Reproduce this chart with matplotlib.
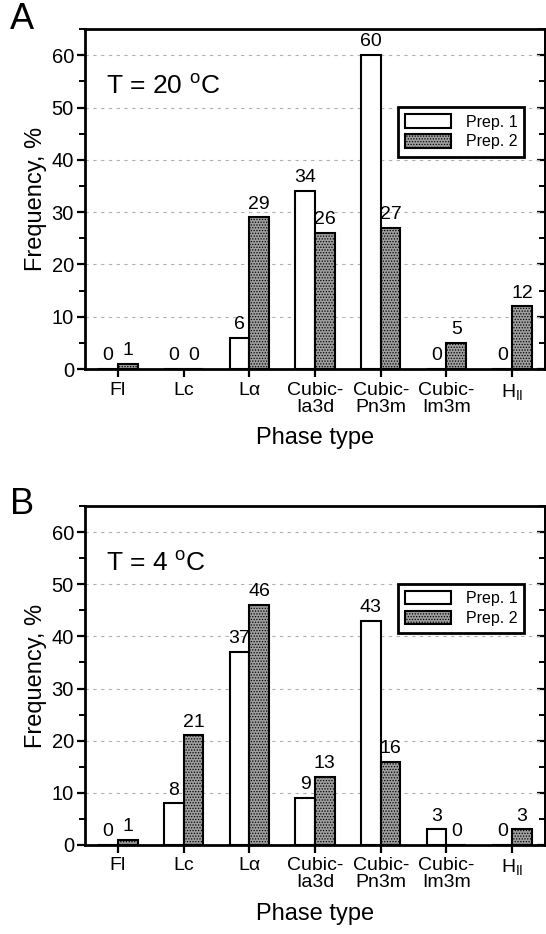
import matplotlib
matplotlib.use("Agg")
import matplotlib.pyplot as plt
import numpy as np
from matplotlib.ticker import MultipleLocator

# ── data ─────────────────────────────────────────────────────────────────────
phases = ["Fl", "Lc", "L\u03b1", "Cubic-\nIa3d", "Cubic-\nPn3m", "Cubic-\nIm3m",
          r"H$_{\mathregular{II}}$"]
prep1_20C = [0, 0, 6, 34, 60, 0, 0]
prep2_20C = [1, 0, 29, 26, 27, 5, 12]
prep1_4C = [0, 8, 37, 9, 43, 3, 0]
prep2_4C = [1, 21, 46, 13, 16, 0, 3]
series_names = ["Prep. 1", "Prep. 2"]

plt.rcParams.update({
    "font.family": ["Liberation Sans", "DejaVu Sans"],
    "mathtext.default": "regular",
    "hatch.linewidth": 0.6,
})

C_GRAY = "#9e9e9e"

fig = plt.figure(figsize=(5.46, 9.34), dpi=100)


def panel(rect, p1, p2, temp_text, letter, letter_y):
    ax = fig.add_axes(rect)
    x = np.arange(len(phases))
    w = 0.30
    b1 = ax.bar(x - w/2, p1, w, color="white", edgecolor="black",
                linewidth=1.5, label=series_names[0], zorder=3)
    b2 = ax.bar(x + w/2, p2, w, color=C_GRAY, edgecolor="black",
                linewidth=1.5, hatch="......", label=series_names[1], zorder=3)

    for bars in (b1, b2):
        for bar in bars:
            ax.text(bar.get_x() + bar.get_width()/2, bar.get_height() + 0.9,
                    f"{bar.get_height():.0f}", ha="center", va="bottom",
                    fontsize=14)

    ax.set_xlim(-0.5, len(phases) - 0.5)
    ax.set_ylim(0, 65)
    ax.set_xticks(x)
    ax.set_xticklabels(phases, fontsize=14, linespacing=1.0)
    ax.yaxis.set_major_locator(MultipleLocator(10))
    ax.yaxis.set_minor_locator(MultipleLocator(5))
    ax.tick_params(axis="y", which="major", direction="out", length=6,
                   width=1.6, labelsize=14.5, pad=2)
    ax.tick_params(axis="y", which="minor", direction="out", length=4,
                   width=1.4)
    ax.tick_params(axis="x", direction="out", length=6, width=1.6, pad=3)

    # right-hand ticks pointing inwards
    sec = ax.secondary_yaxis("right")
    sec.yaxis.set_major_locator(MultipleLocator(10))
    sec.yaxis.set_minor_locator(MultipleLocator(5))
    sec.tick_params(which="major", direction="in", length=6, width=1.6,
                    labelright=False)
    sec.tick_params(which="minor", direction="in", length=4, width=1.4)
    sec.spines["right"].set_linewidth(2)

    for s in ax.spines.values():
        s.set_linewidth(2)

    for yv in range(10, 61, 10):
        ax.axhline(yv, color="#b0b0b0", linestyle=(0, (3, 4)), linewidth=0.8,
                   zorder=1)

    ax.set_ylabel("Frequency, %", fontsize=17, labelpad=3)
    ax.set_xlabel("Phase type", fontsize=17, labelpad=8)

    ax.text(0.045, 0.83, temp_text, transform=ax.transAxes, fontsize=19,
            ha="left", va="center")

    leg = ax.legend(loc="upper right", bbox_to_anchor=(0.955, 0.77),
                    fontsize=11.5, frameon=True, fancybox=False, framealpha=1,
                    handlelength=2.9, handleheight=0.9, handletextpad=0.9,
                    borderpad=0.45, labelspacing=0.3, borderaxespad=0)
    leg.get_frame().set_edgecolor("black")
    leg.get_frame().set_linewidth(2)

    fig.text(0.04, letter_y, letter, fontsize=26, ha="center", va="center")
    return ax


panel([0.1557, 0.6049, 0.8425, 0.364], prep1_20C, prep2_20C,
      r"T = 20 $^{\mathregular{o}}$C", "A", 0.979)
panel([0.1557, 0.0953, 0.8425, 0.363], prep1_4C, prep2_4C,
      r"T = 4 $^{\mathregular{o}}$C", "B", 0.460)

fig.savefig("out.png", dpi=100)
